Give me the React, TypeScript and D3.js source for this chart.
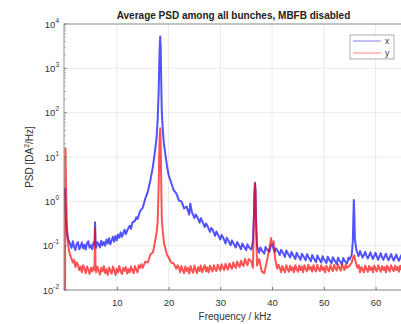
import React, { useEffect, useRef } from 'react';
import * as d3 from 'd3';

const TITLE = 'Average PSD among all bunches, MBFB disabled';
const X_LABEL = 'Frequency / kHz';
const SERIES_NAMES = ['x', 'y'];
const SERIES_COLORS = ['#0000ff', '#ff0000'];
const X_TICKS = [10, 20, 30, 40, 50, 60];
const Y_EXPONENTS = [-2, -1, 0, 1, 2, 3, 4];

// [frequency in kHz, log10 of PSD]
const xPlane: [number, number][] = [
  [0, 0.3], [0.15, -0.35], [0.3, -0.62], [0.5, -0.8], [0.75, -0.9], [1.0, -0.97],
  [1.25, -1.05], [1.5, -0.9], [1.75, -1.02], [2.0, -1.1], [2.25, -0.96], [2.5, -0.92],
  [2.75, -1.08], [3.0, -1.02], [3.25, -0.93], [3.5, -1.06], [3.75, -0.98], [4.0, -1.09],
  [4.25, -0.94], [4.5, -0.9], [4.75, -1.05], [5.0, -0.99], [5.25, -1.08], [5.5, -0.93],
  [5.7, -0.98], [5.8, -0.47], [5.9, -0.96], [6.0, -1.05], [6.25, -0.92], [6.5, -0.97],
  [6.75, -1.04], [7.0, -0.89], [7.25, -0.99], [7.5, -0.92], [7.75, -1.0], [8.0, -0.86],
  [8.25, -0.95], [8.5, -0.83], [8.75, -0.97], [9.0, -0.88], [9.25, -0.8], [9.5, -0.91],
  [9.75, -0.78], [10.0, -0.88], [10.25, -0.75], [10.5, -0.82], [10.75, -0.7], [11.0, -0.8],
  [11.5, -0.64], [11.75, -0.74], [12.0, -0.66], [12.5, -0.55], [12.75, -0.62], [13.0, -0.48],
  [13.5, -0.44], [13.75, -0.36], [14.0, -0.4], [14.5, -0.22], [15.0, -0.15], [15.5, 0.06],
  [16.0, 0.22], [16.5, 0.48], [17.0, 0.8], [17.4, 1.15],
  [17.7, 1.45], [17.9, 1.85], [18.1, 2.5], [18.2, 3.1], [18.3, 3.5], [18.4, 3.72],
  [18.5, 3.4], [18.6, 2.6], [18.7, 2.0], [18.9, 1.6], [19.1, 1.3], [19.4, 1.05],
  [19.7, 0.8], [20.0, 0.6], [20.5, 0.42], [21.0, 0.25], [21.5, 0.18], [22.0, 0.02],
  [22.5, 0.0], [23.0, -0.16], [23.5, -0.12], [24.0, -0.3], [24.2, -0.05], [24.5, -0.24],
  [25.0, -0.38], [25.25, -0.3], [25.5, -0.34], [26.0, -0.48], [26.25, -0.38], [26.5, -0.44],
  [27.0, -0.58], [27.25, -0.5], [27.5, -0.55], [28.0, -0.69], [28.25, -0.6], [28.5, -0.64],
  [29.0, -0.78], [29.25, -0.68], [29.5, -0.74], [30.0, -0.86], [30.25, -0.76], [30.5, -0.8],
  [31.0, -0.95], [31.25, -0.82], [31.5, -0.87], [32.0, -0.99], [32.25, -0.88], [32.5, -0.94],
  [33.0, -1.04], [33.25, -0.92], [33.5, -0.97], [34.0, -1.08], [34.25, -0.95], [34.5, -1.0],
  [35.0, -1.1], [35.25, -0.97], [35.5, -1.03], [36.0, -1.09], [36.3, -0.9],
  [36.5, -0.3], [36.6, 0.2], [36.7, 0.42], [36.8, 0.25], [36.9, -0.35], [37.1, -1.0],
  [37.5, -1.16], [37.75, -1.04], [38.0, -1.1], [38.5, -1.18], [38.75, -1.03], [39.0, -1.08],
  [39.5, -1.14], [39.75, -1.0], [40.0, -0.97], [40.5, -1.14], [40.75, -1.06], [41.0, -1.1],
  [41.5, -1.21], [41.75, -1.09], [42.0, -1.14], [42.5, -1.25], [42.75, -1.11], [43.0, -1.16],
  [43.5, -1.27], [43.75, -1.14], [44.0, -1.2], [44.5, -1.3], [44.75, -1.16], [45.0, -1.22],
  [45.5, -1.32], [45.75, -1.18], [46.0, -1.23], [46.5, -1.33], [46.75, -1.19], [47.0, -1.25],
  [47.5, -1.35], [47.75, -1.21], [48.0, -1.27], [48.5, -1.37], [48.75, -1.22], [49.0, -1.28],
  [49.5, -1.38], [49.75, -1.24], [50.0, -1.3], [50.5, -1.39], [50.75, -1.25], [51.0, -1.31],
  [51.5, -1.4], [51.75, -1.26], [52.0, -1.32], [52.5, -1.41], [52.75, -1.27], [53.0, -1.33],
  [53.5, -1.42], [53.75, -1.28], [54.0, -1.34], [54.5, -1.4], [54.75, -1.27], [55.0, -1.31],
  [55.4, -1.2], [55.6, -0.9], [55.7, -0.4], [55.8, 0.03], [55.9, -0.3], [56.0, -0.85],
  [56.3, -1.1], [56.7, -1.24], [57.0, -1.12], [57.25, -1.2], [57.5, -1.27], [58.0, -1.14],
  [58.25, -1.23], [58.5, -1.29], [59.0, -1.15], [59.25, -1.24], [59.5, -1.3], [60.0, -1.16],
  [60.25, -1.25], [60.5, -1.32], [61.0, -1.17], [61.25, -1.26], [61.5, -1.32], [62.0, -1.18],
  [62.25, -1.27], [62.5, -1.33], [63.0, -1.19], [63.25, -1.27], [63.5, -1.34], [64.0, -1.2],
  [64.25, -1.28], [64.5, -1.34], [65.0, -1.21], [65.3, -1.3]
];

const yPlane: [number, number][] = [
  [0, -2.3], [0.08, 1.2], [0.2, 0.3], [0.35, -0.5], [0.5, -0.85], [0.75, -1.1],
  [1.0, -1.22], [1.25, -1.3], [1.5, -1.38], [1.75, -1.32], [2.0, -1.48], [2.25, -1.38],
  [2.5, -1.43], [2.75, -1.55], [3.0, -1.47], [3.25, -1.6], [3.5, -1.44], [3.75, -1.52],
  [4.0, -1.62], [4.25, -1.47], [4.5, -1.55], [4.75, -1.64], [5.0, -1.5], [5.25, -1.58],
  [5.5, -1.48], [5.7, -1.55], [5.8, -0.6], [5.9, -1.52], [6.0, -1.6], [6.25, -1.47],
  [6.5, -1.56], [6.75, -1.65], [7.0, -1.5], [7.25, -1.58], [7.5, -1.46], [7.75, -1.62],
  [8.0, -1.53], [8.25, -1.66], [8.5, -1.49], [8.75, -1.57], [9.0, -1.63], [9.25, -1.47],
  [9.5, -1.55], [9.75, -1.66], [10.0, -1.52], [10.25, -1.6], [10.5, -1.46], [10.75, -1.58],
  [11.0, -1.64], [11.25, -1.5], [11.5, -1.57], [11.75, -1.48], [12.0, -1.63], [12.25, -1.53],
  [12.5, -1.6], [12.75, -1.47], [13.0, -1.56], [13.25, -1.62], [13.5, -1.46], [13.75, -1.54],
  [14.0, -1.6], [14.25, -1.44], [14.5, -1.5], [14.75, -1.42], [15.0, -1.5], [15.5, -1.36],
  [16.0, -1.38], [16.5, -1.2], [17.0, -1.15],
  [17.4, -0.9], [17.7, -0.7], [17.9, -0.45], [18.1, 0.4], [18.2, 1.1], [18.3, 1.5],
  [18.4, 1.65], [18.5, 1.2], [18.6, 0.3], [18.7, -0.4], [18.9, -0.7], [19.1, -0.92],
  [19.4, -1.08], [19.7, -1.2], [20.0, -1.26], [20.5, -1.38], [21.0, -1.4], [21.5, -1.52],
  [21.75, -1.44], [22.0, -1.5], [22.25, -1.6], [22.5, -1.46], [22.75, -1.55], [23.0, -1.62],
  [23.25, -1.47], [23.5, -1.57], [23.75, -1.5], [24.0, -1.63], [24.25, -1.46], [24.5, -1.55],
  [24.75, -1.61], [25.0, -1.45], [25.25, -1.54], [25.5, -1.62], [25.75, -1.48], [26.0, -1.57],
  [26.25, -1.45], [26.5, -1.6], [26.75, -1.52], [27.0, -1.44], [27.25, -1.58], [27.5, -1.49],
  [27.75, -1.6], [28.0, -1.45], [28.25, -1.53], [28.5, -1.58], [28.75, -1.44], [29.0, -1.52],
  [29.25, -1.57], [29.5, -1.43], [29.75, -1.5], [30.0, -1.56], [30.25, -1.42], [30.5, -1.5],
  [30.75, -1.55], [31.0, -1.41], [31.25, -1.49], [31.5, -1.54], [31.75, -1.4], [32.0, -1.47],
  [32.25, -1.52], [32.5, -1.38], [32.75, -1.46], [33.0, -1.5], [33.25, -1.36], [33.5, -1.44],
  [33.75, -1.48], [34.0, -1.34], [34.25, -1.42], [34.5, -1.46], [34.75, -1.3], [35.0, -1.38],
  [35.25, -1.44], [35.5, -1.3], [36.0, -1.36], [36.3, -1.5],
  [36.5, -0.4], [36.6, 0.15], [36.7, 0.4], [36.8, 0.2], [36.9, -0.5], [37.1, -1.45],
  [37.5, -1.3], [38.0, -1.58], [38.5, -1.62], [39.0, -1.35], [39.5, -1.05], [39.8, -0.83],
  [40.0, -0.95], [40.3, -0.9], [40.6, -1.3], [41.0, -1.52], [41.25, -1.43], [41.5, -1.5],
  [41.75, -1.6], [42.0, -1.46], [42.25, -1.54], [42.5, -1.6], [42.75, -1.44], [43.0, -1.53],
  [43.25, -1.59], [43.5, -1.45], [43.75, -1.56], [44.0, -1.49], [44.25, -1.6], [44.5, -1.44],
  [44.75, -1.53], [45.0, -1.59], [45.25, -1.45], [45.5, -1.55], [45.75, -1.47], [46.0, -1.6],
  [46.25, -1.44], [46.5, -1.52], [46.75, -1.58], [47.0, -1.43], [47.25, -1.54], [47.5, -1.48],
  [47.75, -1.59], [48.0, -1.44], [48.25, -1.53], [48.5, -1.58], [48.75, -1.43], [49.0, -1.52],
  [49.25, -1.57], [49.5, -1.44], [49.75, -1.55], [50.0, -1.49], [50.25, -1.6], [50.5, -1.45],
  [50.75, -1.53], [51.0, -1.58], [51.25, -1.44], [51.5, -1.52], [51.75, -1.57], [52.0, -1.43],
  [52.25, -1.51], [52.5, -1.56], [52.75, -1.42], [53.0, -1.5], [53.25, -1.56], [53.5, -1.42],
  [53.75, -1.49], [54.0, -1.55], [54.25, -1.42], [54.5, -1.5], [55.0, -1.45],
  [55.4, -1.38], [55.7, -1.25], [55.9, -1.22], [56.1, -1.35], [56.5, -1.5], [56.75, -1.44],
  [57.0, -1.6], [57.25, -1.48], [57.5, -1.54], [57.75, -1.6], [58.0, -1.45], [58.25, -1.53],
  [58.5, -1.59], [58.75, -1.46], [59.0, -1.55], [59.25, -1.49], [59.5, -1.6], [59.75, -1.45],
  [60.0, -1.53], [60.25, -1.58], [60.5, -1.44], [60.75, -1.52], [61.0, -1.59], [61.25, -1.46],
  [61.5, -1.55], [61.75, -1.48], [62.0, -1.6], [62.25, -1.45], [62.5, -1.53], [62.75, -1.58],
  [63.0, -1.44], [63.25, -1.52], [63.5, -1.57], [63.75, -1.45], [64.0, -1.55], [64.25, -1.48],
  [64.5, -1.59], [64.75, -1.45], [65.0, -1.54], [65.3, -1.48]
];

const W = 401;
const H = 324;

const App = () => {
  const svgRef = useRef<SVGSVGElement>(null);

  useEffect(() => {
    const svg = d3.select(svgRef.current);
    svg.selectAll('*').remove();

    const left = 64, right = 403, top = 24, bottom = 290;
    const font = 'Helvetica, Arial, "Liberation Sans", sans-serif';
    const ink = '#333';

    const x = d3.scaleLinear().domain([-0.2, 65.3]).range([left, right]);
    const y = d3.scaleLog().domain([1e-2, 1e4]).range([bottom, top]);

    svg.append('rect').attr('width', W).attr('height', H).attr('fill', '#fff');

    svg.append('defs').append('clipPath').attr('id', 'plotclip')
      .append('rect').attr('x', left).attr('y', top)
      .attr('width', right - left).attr('height', bottom - top);

    // grid
    const grid = svg.append('g').attr('stroke', '#e3e3e3').attr('stroke-width', 0.7);
    X_TICKS.forEach(t => {
      grid.append('line').attr('x1', x(t)).attr('x2', x(t)).attr('y1', top).attr('y2', bottom);
    });
    Y_EXPONENTS.forEach(e => {
      grid.append('line').attr('x1', left).attr('x2', right)
        .attr('y1', y(10 ** e)).attr('y2', y(10 ** e));
    });

    // series
    const line = d3.line<[number, number]>()
      .x(d => x(d[0]))
      .y(d => y(10 ** d[1]));

    const plot = svg.append('g').attr('clip-path', 'url(#plotclip)');
    [xPlane, yPlane].forEach((data, i) => {
      plot.append('path')
        .datum(data)
        .attr('d', line)
        .attr('fill', 'none')
        .attr('stroke', SERIES_COLORS[i])
        .attr('stroke-width', 2)
        .attr('stroke-opacity', 0.68)
        .attr('stroke-linejoin', 'round');
    });

    // axes box
    const axisColor = '#777';
    svg.append('rect').attr('x', left).attr('y', top)
      .attr('width', right - left).attr('height', bottom - top)
      .attr('fill', 'none').attr('stroke', axisColor).attr('stroke-width', 0.8);

    // x ticks
    const xAxis = svg.append('g').attr('transform', `translate(0,${bottom})`)
      .call(d3.axisBottom(x).tickValues(X_TICKS).tickSize(-3).tickPadding(9).tickFormat(d3.format('d')));
    xAxis.select('.domain').remove();
    xAxis.selectAll('line').attr('stroke', axisColor);
    xAxis.selectAll('text').attr('font-family', font).attr('font-size', 9.5).attr('fill', ink);

    // y ticks (major + minor)
    const yt = svg.append('g');
    Y_EXPONENTS.forEach(e => {
      const yy = y(10 ** e);
      yt.append('line').attr('x1', left).attr('x2', left + 3).attr('y1', yy).attr('y2', yy)
        .attr('stroke', axisColor).attr('stroke-width', 0.8);
      const label = yt.append('text')
        .attr('x', left - 5).attr('y', yy + 3.5)
        .attr('text-anchor', 'end')
        .attr('font-family', font).attr('font-size', 9.5).attr('fill', ink);
      label.append('tspan').text('10');
      label.append('tspan').attr('dy', -5).attr('font-size', 6.5).text(String(e));
      if (e < 4) {
        for (let m = 2; m < 10; m++) {
          const ym = y(m * 10 ** e);
          yt.append('line').attr('x1', left).attr('x2', left + 1.8).attr('y1', ym).attr('y2', ym)
            .attr('stroke', axisColor).attr('stroke-width', 0.6);
        }
      }
    });

    // title and axis labels
    svg.append('text')
      .attr('x', (left + right) / 2).attr('y', 19)
      .attr('text-anchor', 'middle')
      .attr('font-family', font).attr('font-size', 10).attr('font-weight', 'bold').attr('fill', '#222')
      .text(TITLE);

    svg.append('text')
      .attr('x', 235).attr('y', 320)
      .attr('text-anchor', 'middle')
      .attr('font-family', font).attr('font-size', 10).attr('fill', ink)
      .text(X_LABEL);

    const yl = svg.append('text')
      .attr('transform', `translate(33,${(top + bottom) / 2}) rotate(-90)`)
      .attr('text-anchor', 'middle')
      .attr('font-family', font).attr('font-size', 10).attr('fill', ink);
    yl.append('tspan').text('PSD [DA');
    yl.append('tspan').attr('dy', -4).attr('font-size', 7).text('2');
    yl.append('tspan').attr('dy', 4).text('/Hz]');

    // legend
    const lg = svg.append('g').attr('transform', 'translate(350,35)');
    lg.append('rect').attr('width', 44).attr('height', 24)
      .attr('fill', '#fff').attr('stroke', '#8a8a8a').attr('stroke-width', 0.7);
    SERIES_NAMES.forEach((name, i) => {
      const ly = 6 + i * 12;
      lg.append('line').attr('x1', 3).attr('x2', 31).attr('y1', ly).attr('y2', ly)
        .attr('stroke', SERIES_COLORS[i]).attr('stroke-width', 1).attr('stroke-opacity', 0.5);
      lg.append('text').attr('x', 35).attr('y', ly + 3)
        .attr('font-family', font).attr('font-size', 8.5).attr('fill', ink)
        .text(name);
    });
  }, []);

  return (
    <svg
      ref={svgRef}
      width={W}
      height={H}
      style={{ position: 'absolute', left: 0, top: 0, display: 'block' }}
    />
  );
};

export default App;
